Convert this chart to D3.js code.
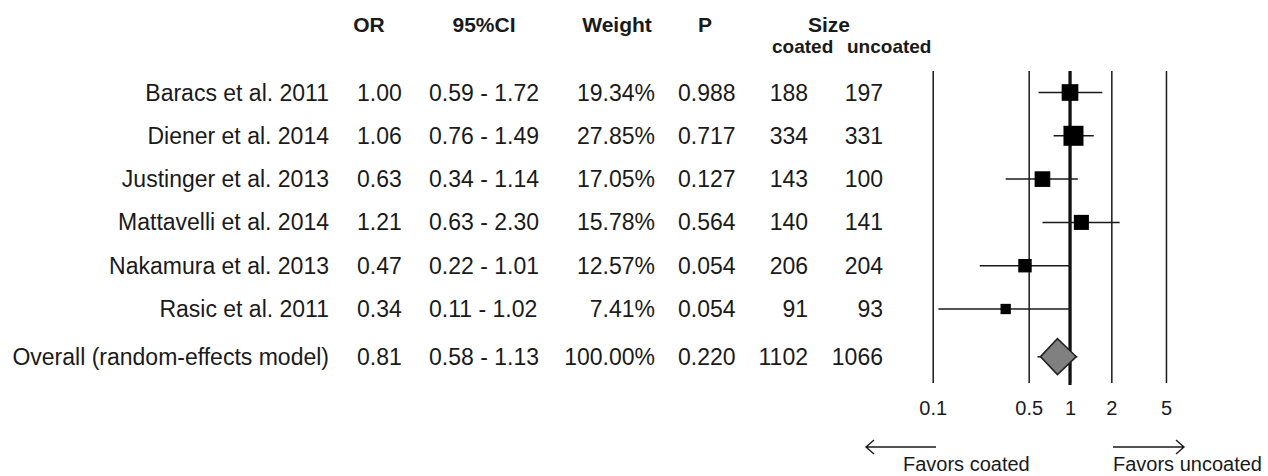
<!DOCTYPE html>
<html>
<head>
<meta charset="utf-8">
<script src="https://cdn.jsdelivr.net/npm/d3@7"></script>
<style>
  body { margin: 0; background: #fff; }
  svg { display: block; font-family: "Liberation Sans", Arial, sans-serif; }
  .cell { font-size: 23px; fill: #1a1a1a; }
  .head { font-size: 21px; font-weight: bold; fill: #1a1a1a; }
  .sub { font-size: 19px; font-weight: bold; fill: #1a1a1a; }
</style>
</head>
<body>
<div id="chart"></div>
<script>
const studies = [
  "Baracs et al. 2011",
  "Diener et al. 2014",
  "Justinger et al. 2013",
  "Mattavelli et al. 2014",
  "Nakamura et al. 2013",
  "Rasic et al. 2011",
];
const oddsRatios = [1.0, 1.06, 0.63, 1.21, 0.47, 0.34];
const ciLow = [0.59, 0.76, 0.34, 0.63, 0.22, 0.11];
const ciHigh = [1.72, 1.49, 1.14, 2.3, 1.01, 1.02];
const weights = [19.34, 27.85, 17.05, 15.78, 12.57, 7.41];
const pValues = ["0.988", "0.717", "0.127", "0.564", "0.054", "0.054"];
const coatedN = [188, 334, 143, 140, 206, 91];
const uncoatedN = [197, 331, 100, 141, 204, 93];

const overallLabel = "Overall (random-effects model)";
const overallOR = 0.81;
const overallLow = 0.58;
const overallHigh = 1.13;
const overallWeight = 100.0;
const overallP = "0.220";
const overallCoated = 1102;
const overallUncoated = 1066;

const xTicks = [0.1, 0.5, 1, 2, 5];

const width = 1268;
const height = 476;
const plotTop = 71;
const plotBottom = 383;

const svg = d3
  .select("#chart")
  .append("svg")
  .attr("width", width)
  .attr("height", height);

svg.append("rect").attr("width", width).attr("height", height).attr("fill", "#fff");

const xScale = d3.scaleLog().domain([0.1, 10]).range([932.7, 1207.3]);
// row index -> vertical centre, overall row sits a bit lower
const yScale = d3.scaleLinear().domain([0, 5]).range([92.5, 309]);
const sizeScale = d3.scaleSqrt().domain([0, d3.max(weights)]).range([0, 20]);

const rows = studies.map((name, i) => ({
  name: name,
  or: oddsRatios[i],
  low: ciLow[i],
  high: ciHigh[i],
  weight: weights[i],
  p: pValues[i],
  coated: coatedN[i],
  uncoated: uncoatedN[i],
  y: yScale(i),
}));
const overall = {
  name: overallLabel,
  or: overallOR,
  low: overallLow,
  high: overallHigh,
  weight: overallWeight,
  p: overallP,
  coated: overallCoated,
  uncoated: overallUncoated,
  y: yScale(6.1),
};
const allRows = rows.concat([overall]);

// header
const headers = [
  { text: "OR", x: 369 },
  { text: "95%CI", x: 484 },
  { text: "Weight", x: 617 },
  { text: "P", x: 705 },
  { text: "Size", x: 829 },
];
svg
  .selectAll(".head")
  .data(headers)
  .enter()
  .append("text")
  .attr("class", "head")
  .attr("x", (d) => d.x)
  .attr("y", 32)
  .attr("text-anchor", "middle")
  .text((d) => d.text);

svg.append("text").attr("class", "sub").attr("x", 772).attr("y", 53).text("coated");
svg.append("text").attr("class", "sub").attr("x", 847).attr("y", 53).text("uncoated");

// table columns
const columns = [
  { x: 329, anchor: "end", value: (d) => d.name },
  { x: 357, anchor: "start", value: (d) => d.or.toFixed(2) },
  { x: 429, anchor: "start", value: (d) => `${d.low.toFixed(2)} - ${d.high.toFixed(2)}` },
  { x: 655, anchor: "end", value: (d) => d.weight.toFixed(2) + "%" },
  { x: 678, anchor: "start", value: (d) => d.p },
  { x: 808, anchor: "end", value: (d) => d.coated },
  { x: 883, anchor: "end", value: (d) => d.uncoated },
];

columns.forEach((col) => {
  svg
    .append("g")
    .selectAll("text")
    .data(allRows)
    .enter()
    .append("text")
    .attr("class", "cell")
    .attr("x", col.x)
    .attr("y", (d) => d.y)
    .attr("dy", "0.35em")
    .attr("text-anchor", col.anchor)
    .text(col.value);
});

// axis with full-height grid lines
const xAxis = d3
  .axisBottom(xScale)
  .tickValues(xTicks)
  .tickFormat(d3.format("~g"))
  .tickSizeInner(-(plotBottom - plotTop))
  .tickSizeOuter(0)
  .tickPadding(18);

const axisG = svg
  .append("g")
  .attr("class", "x-axis")
  .attr("transform", `translate(0, ${plotBottom})`)
  .call(xAxis);
axisG.select(".domain").remove();
axisG.selectAll("line").attr("stroke", "#1a1a1a").attr("stroke-width", 1.5);
axisG
  .selectAll("text")
  .attr("font-size", 20)
  .attr("font-family", "Liberation Sans, Arial, sans-serif")
  .attr("fill", "#1a1a1a");

// reference line at OR = 1
svg
  .append("line")
  .attr("x1", xScale(1))
  .attr("x2", xScale(1))
  .attr("y1", plotTop)
  .attr("y2", plotBottom + 2)
  .attr("stroke", "#111")
  .attr("stroke-width", 3.2);

// confidence intervals
svg
  .selectAll(".ci")
  .data(allRows)
  .enter()
  .append("line")
  .attr("class", "ci")
  .attr("x1", (d) => xScale(d.low))
  .attr("x2", (d) => xScale(d.high))
  .attr("y1", (d) => d.y)
  .attr("y2", (d) => d.y)
  .attr("stroke", "#1a1a1a")
  .attr("stroke-width", 1.5);

// study squares
svg
  .selectAll(".box")
  .data(rows)
  .enter()
  .append("rect")
  .attr("class", "box")
  .attr("x", (d) => xScale(d.or) - sizeScale(d.weight) / 2)
  .attr("y", (d) => d.y - sizeScale(d.weight) / 2)
  .attr("width", (d) => sizeScale(d.weight))
  .attr("height", (d) => sizeScale(d.weight))
  .attr("fill", "#000");

// overall diamond
const dh = 18;
svg
  .append("path")
  .datum(overall)
  .attr("d", (d) =>
    `M${xScale(d.low) + 3},${d.y} L${xScale(d.or)},${d.y - dh} L${xScale(d.high) - 1},${d.y} L${xScale(d.or)},${d.y + dh} Z`
  )
  .attr("fill", "#808080")
  .attr("stroke", "#222")
  .attr("stroke-width", 1.5);

// direction arrows
const arrowY = 447;
svg
  .append("path")
  .attr("d", `M936,${arrowY} H866 M874,${arrowY - 7} L866,${arrowY} L874,${arrowY + 7}`)
  .attr("fill", "none")
  .attr("stroke", "#1a1a1a")
  .attr("stroke-width", 1.4);
svg
  .append("path")
  .attr("d", `M1113,${arrowY} H1184 M1176,${arrowY - 7} L1184,${arrowY} L1176,${arrowY + 7}`)
  .attr("fill", "none")
  .attr("stroke", "#1a1a1a")
  .attr("stroke-width", 1.4);

svg
  .append("text")
  .attr("x", 903)
  .attr("y", 471)
  .style("font-size", "20px")
  .attr("fill", "#1a1a1a")
  .text("Favors coated");
svg
  .append("text")
  .attr("x", 1113)
  .attr("y", 471)
  .style("font-size", "20px")
  .attr("fill", "#1a1a1a")
  .text("Favors uncoated");
</script>
</body>
</html>
